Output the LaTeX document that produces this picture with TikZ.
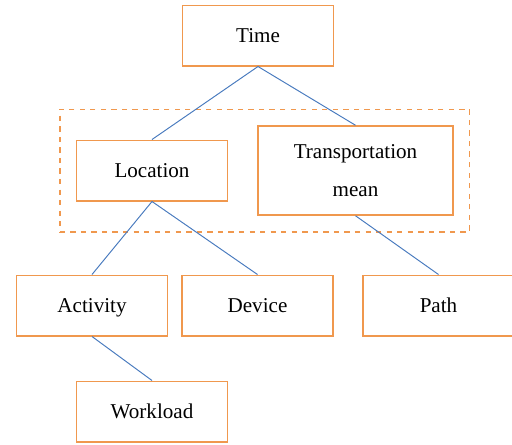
\documentclass[tikz,border=0pt]{standalone}
\usepackage{fontspec}
\setmainfont{Liberation Serif}
\usepackage{tikz}
\usetikzlibrary{positioning, fit}

\definecolor{boxorange}{RGB}{240,152,78}
\definecolor{linkblue}{RGB}{72,122,190}

\begin{document}
\begin{tikzpicture}[
      node distance=2.7cm,
      block/.style={rectangle, draw=boxorange, line width=0.85pt, minimum width=3.02cm, minimum height=1.21cm, align=center, font=\fontsize{12}{21.6}\selectfont},
      single/.style={block, text height=7.5pt, text depth=0pt},
      group/.style={rectangle, draw=boxorange, dashed, line width=0.85pt, inner sep=0.32cm},
      link/.style={draw=linkblue, line width=0.55pt}
      ]
      \useasboundingbox (0,0) rectangle (10.24,-8.88);

      % Nodes
      \node[single] (time) at (5.16,-0.71) {Time};
      \node[single, below of=time, xshift=-2.12cm] (location) {Location};
      \node[block, right of=location, xshift=1.37cm, minimum width=3.9cm, minimum height=1.78cm] (transport) {Transportation\\mean};
      \node[single, below of=location, xshift=-1.2cm] (activity) {Activity};
      \node[single, right of=activity, xshift=0.61cm] (device) {Device};
      \node[single, right of=device, xshift=0.92cm] (path) {Path};
      \node[single, below of=activity, xshift=1.2cm, yshift=0.58cm] (workload) {Workload};

      % Dashed group
      \node[group, fit=(location)(transport)] (context) {};

      % Links
      \draw[link] (time.south) -- (location.north);
      \draw[link] (time.south) -- (transport.north);
      \draw[link] (location.south) -- (activity.north);
      \draw[link] (location.south) -- (device.north);
      \draw[link] (transport.south) -- (path.north);
      \draw[link] (activity.south) -- (workload.north);
    \end{tikzpicture}
\end{document}
